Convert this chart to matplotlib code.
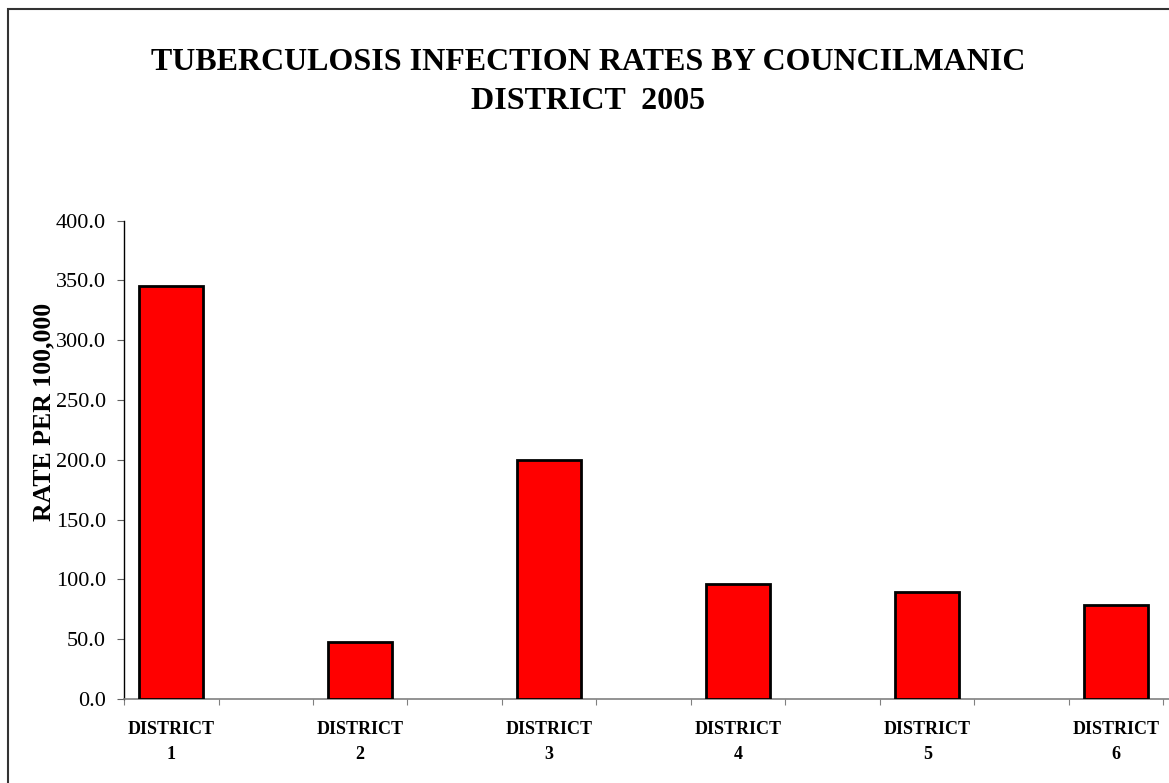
import matplotlib.pyplot as plt
import numpy as np
from matplotlib.patches import Rectangle

plt.rcParams['font.family'] = ['Liberation Serif', 'DejaVu Serif']

districts = ['DISTRICT\n1', 'DISTRICT\n2', 'DISTRICT\n3', 'DISTRICT\n4', 'DISTRICT\n5', 'DISTRICT\n6']
rates = [345.5, 47.5, 200.0, 96.5, 89.5, 78.5]
yticks = [0, 50, 100, 150, 200, 250, 300, 350, 400]

W, H = 1169, 783
fig = plt.figure(figsize=(W / 100, H / 100), dpi=100)

# plot area runs off the right edge like the original (12 slots, every other one empty)
slot = 94.5
ax = fig.add_axes([124 / W, (H - 699) / H, 12 * slot / W, (699 - 220.5) / H])

x = np.arange(len(rates)) * 2
ax.bar(x, rates, width=0.68, color='#ff0000', edgecolor='black', linewidth=2, zorder=3)

ax.set_xlim(-0.5, 11.5)
ax.set_ylim(0, 400)
ax.set_yticks(yticks)
ax.set_yticklabels(['%.1f' % v for v in yticks], fontsize=16)
ax.set_xticks(np.arange(-0.5, 12, 1))
ax.set_xticklabels([])
ax.set_xticks(x, minor=True)
ax.set_xticklabels(districts, minor=True, fontsize=13, fontweight='bold', linespacing=1.6)
ax.tick_params(axis='x', which='minor', length=0, pad=16)
ax.tick_params(axis='x', which='major', length=4.5, color='#808080', direction='out')
ax.tick_params(axis='y', length=5, color='#606060', pad=8)

ax.spines['top'].set_visible(False)
ax.spines['right'].set_visible(False)
ax.spines['bottom'].set_color('#808080')
ax.spines['bottom'].set_linewidth(1.2)
ax.spines['left'].set_color('black')
ax.spines['left'].set_linewidth(1.0)

fig.text(44 / W, 1 - 412 / H, 'RATE PER 100,000', rotation=90, ha='center', va='center',
         fontsize=18.5, fontweight='bold')

fig.text(0.503, 1 - 82 / H, 'TUBERCULOSIS INFECTION RATES BY COUNCILMANIC\nDISTRICT  2005',
         ha='center', va='center', fontsize=23, fontweight='bold', linespacing=1.48)

# chart border (only left and top visible in the crop)
fig.patches.append(Rectangle((8 / W, -0.1), 1.2, (H - 9) / H + 0.1, fill=False,
                             edgecolor='#333333', linewidth=1.5, transform=fig.transFigure))

fig.savefig('out.png', dpi=100)
